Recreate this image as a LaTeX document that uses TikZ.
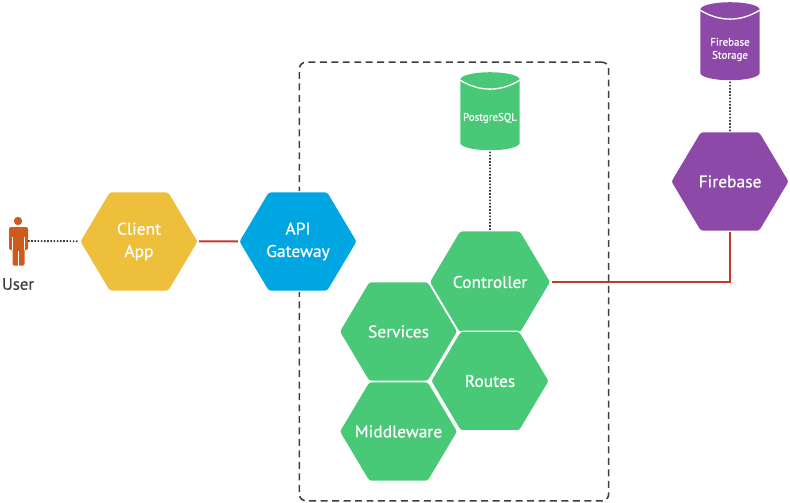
\documentclass[tikz,border=0pt]{standalone}
\usepackage{fontspec}
\setmainfont{PT Sans}[RawFeature={embolden=0.6}]
\usetikzlibrary{shapes.geometric}

\definecolor{cyellow}{HTML}{EDBF3A}
\definecolor{cblue}{HTML}{00A6E2}
\definecolor{cgreen}{HTML}{49C878}
\definecolor{cpurple}{HTML}{8C49A8}
\definecolor{cred}{HTML}{C0392B}
\definecolor{cdark}{HTML}{3A3F44}
\definecolor{cuser}{HTML}{CF5A1E}

\tikzset{
  hex/.style={regular polygon,regular polygon sides=6,yscale=.97,
    minimum size=89pt,inner sep=0pt,outer sep=.5pt,rounded corners=2pt,
    draw=white,line width=.9pt,text=white,align=center,font=\fontsize{13.1}{17.3}\selectfont},
  db/.style={cylinder,shape border rotate=90,aspect=.27,minimum width=44.5pt,
    minimum height=58.5pt,inner sep=0pt,outer sep=1pt,font=\fontsize{8.2}{9.8}\selectfont},
  dbtext/.style={text=white,align=center,font=\fontsize{8.2}{9.8}\selectfont},
  wire/.style={cred,line width=1.5pt},
  dots/.style={cdark,line width=1.4pt,dash pattern=on 1.2pt off 1.2pt},
  rim/.style={white,line width=1pt}
}

\begin{document}
\begin{tikzpicture}[x=.75pt,y=-.75pt]
  \useasboundingbox (0,0) rectangle (790,503);

  \node[draw=cdark,line width=1.2pt,rounded corners=5pt,minimum width=232pt,
    minimum height=329pt,inner sep=0pt,dash pattern=on 5.2pt off 3.4pt] (box) at (454,281.5) {};

  \node[hex,fill=cyellow] (client) at (139,241.5) {Client\\App};
  \node[hex,fill=cblue] (gateway) at (298,241.5) {API\\Gateway};
  \node[hex,fill=cpurple] (firebase) at (730,181.5) {Firebase};
  \node[hex,fill=cgreen] (controller) at (490,282) {Controller};
  \node[hex,fill=cgreen] (services) at (398.5,331.5) {Services};
  \node[hex,fill=cgreen] (routes) at (490,381) {Routes};
  \node[hex,fill=cgreen] (middleware) at (398.5,431.5) {\makebox[40pt]{Middleware}};

  \node[db,fill=cgreen] (postgres) at (490,115) {\phantom{PostgreSQL}};
  \node[db,fill=cpurple] (storage) at (730,45) {\phantom{PostgreSQL}};
  \draw[rim] (postgres.before top) to[bend right=32] (postgres.after top);
  \draw[rim] (storage.before top) to[bend right=32] (storage.after top);
  \node[dbtext] (pglabel) at (490,118) {PostgreSQL};
  \node[dbtext] (storagelabel) at (730,49.5) {Firebase\\Storage};

  \fill[cuser] (18,221) circle (4.2);
  \fill[cuser,rounded corners=1.5pt] (9,227) rectangle (28,250);
  \fill[cuser,rounded corners=1pt] (12.5,240) rectangle (24.5,265.5);
  \fill[white] (12.2,237) rectangle (12.8,250);
  \fill[white] (24.2,237) rectangle (24.8,250);
  \fill[white] (18.2,251) rectangle (18.8,266);
  \coordinate (person) at (28,241);
  \node[text=cdark,font=\fontsize{12.5}{15}\selectfont] (user) at (18,284) {User};

  \draw[dots] (person) -- (client);
  \draw[wire] (client) -- (gateway);
  \draw[wire] (controller) -| (firebase);
  \draw[dots] (postgres) -- (controller);
  \draw[dots] (storage) -- (firebase);
\end{tikzpicture}
\end{document}
